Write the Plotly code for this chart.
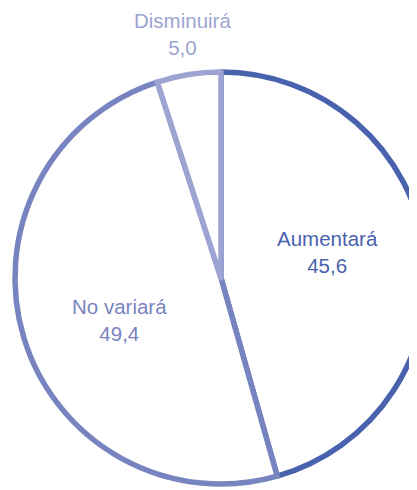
import math
import plotly.graph_objects as go

labels = ["Aumentará", "No variará", "Disminuirá"]
values = [45.6, 49.4, 5.0]
value_text = ["45,6", "49,4", "5,0"]
colors = ["#4862ad", "#7884c0", "#9ea4d1"]
text_pos = ["inside", "inside", "outside"]

W, H = 440, 490
cx, cy, r = 213, 270, 206  # figure pixels (page body adds 8px offset)
FONT = "Liberation Sans, Arial, sans-serif"
FS = 20.5

fig = go.Figure(go.Pie(
    labels=labels,
    values=values,
    textinfo="none",
    sort=False,
    direction="clockwise",
    rotation=0,
    marker=dict(colors=["white"] * len(values), line=dict(color=colors, width=5.5)),
    hoverinfo="skip",
    showlegend=False,
    domain=dict(x=[(cx - r) / W, (cx + r) / W], y=[(H - cy - r) / H, (H - cy + r) / H]),
))

# labels placed along each slice's mid-angle (inside ones at ~half radius, outside just beyond the rim)
total = sum(values)
cum = 0.0
for lab, val, vt, col, p in zip(labels, values, value_text, colors, text_pos):
    mid = (cum + val / 2) / total * 2 * math.pi
    cum += val
    if p == "inside":
        R = 110
        ang = mid - math.radians(5.5)
    else:
        R = r + 41
        ang = mid
    px = cx + R * math.sin(ang)
    py = cy - R * math.cos(ang)
    fig.add_annotation(
        x=px / W, y=1 - py / H, xref="paper", yref="paper",
        text=f"{lab}<br>{vt}", showarrow=False,
        xanchor="center", yanchor="middle",
        font=dict(family=FONT, size=FS, color=col),
    )

fig.update_layout(
    width=W, height=H,
    margin=dict(l=0, r=0, t=0, b=0),
    paper_bgcolor="white",
    showlegend=False,
)
fig.write_html("out.html")
